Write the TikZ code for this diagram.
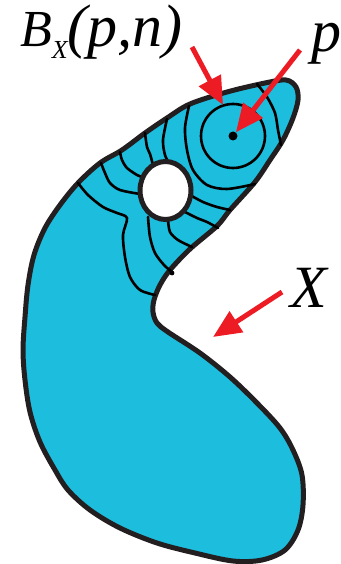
\documentclass[tikz,border=0pt]{standalone}
\usepackage{fontspec}
\setmainfont{Liberation Serif}
\usetikzlibrary{arrows.meta}
\definecolor{regionfill}{RGB}{29,189,221}
\definecolor{outline}{RGB}{35,31,32}
\definecolor{pointer}{RGB}{237,28,36}
\tikzset{
  region/.style={draw=outline,fill=regionfill,line width=5pt,line join=round},
  level/.style={draw=black,line width=2.6pt,line cap=round,line join=round},
  hole/.style={draw=outline,fill=white,line width=5pt},
  ptr/.style={-{Triangle[length=28pt,width=24pt]},draw=pointer,line width=5pt},
  lbl/.style={anchor=base west,inner sep=0pt,font=\rmfamily\itshape\fontsize{60}{64}\selectfont},
}
\begin{document}
\begin{tikzpicture}[x=1pt,y=-1pt]
  \useasboundingbox (0,0) rectangle (340,564);
  % the set X
  \path[region] plot[smooth cycle,tension=0.55] coordinates {
    (265,83) (286,80) (296,87) (298,100) (293,118) (283,140) (270,160)
    (255,182) (230,210) (217,226) (190,249) (170,270) (160,285) (154,300)
    (153,312) (157,323) (168,332) (200,353) (230,377) (257,403) (280,428)
    (293,450) (302,475) (303,505) (298,530) (285,550) (262,560) (233,561)
    (195,553) (157,543) (120,528) (90,510) (68,490) (55,470) (40,442)
    (30,412) (25,380) (23,350) (25,317) (28,285) (34,255) (45,228)
    (60,205) (78,183) (100,163) (122,150) (145,133) (167,118) (190,104)
    (227,92)};
  % level lines
  \draw[level] plot[smooth] coordinates {(189,106) (185,128) (187,150) (193,170) (207,185) (227,189) (255,184)};
  \draw[level] plot[smooth] coordinates {(257,84) (267,97) (275,113) (278,130) (281,145)};
  \draw[level] plot[smooth] coordinates {(167,119) (163,140) (165,155) (170,165)};
  \draw[level] plot[smooth] coordinates {(145,133) (147,147) (150,154) (153,165)};
  \draw[level] plot[smooth] coordinates {(120,152) (122,160) (127,168) (137,175) (142,177)};
  \draw[level] plot[smooth] coordinates {(101,163) (105,173) (110,183) (120,190) (140,194)};
  \draw[level] plot[smooth] coordinates {(78,183) (88,195) (103,207) (117,213) (127,218) (123,235) (125,257) (130,277) (140,290) (155,295)};
  \draw[level] plot[smooth] coordinates {(148,217) (150,237) (155,253) (164,265) (172,272)};
  \draw[level] plot[smooth] coordinates {(168,220) (170,232) (178,240) (192,247)};
  \draw[level] plot[smooth] coordinates {(185,212) (197,218) (207,222) (218,228)};
  \draw[level] plot[smooth] coordinates {(190,195) (203,202) (217,207) (230,210)};
  \fill (172,273) circle (2.4pt);
  \node[circle,draw,line width=2.6pt,minimum size=64pt,inner sep=0pt] (ball) at (233,136) {};
  \path[hole] (165.5,190.5) ellipse [x radius=25.5pt,y radius=29pt];
  \node[circle,fill,inner sep=0pt,minimum size=9pt] (pt) at (233,136) {};
  % labels
  \node[lbl,font=\rmfamily\itshape\fontsize{52}{64}\selectfont] (Blabel) at (20,47)
    {B\raisebox{-12pt}{\fontsize{26}{26}\selectfont X}\fontsize{60}{64}\selectfont(p,n)};
  \node[lbl] (plabel) at (311,52) {p};
  \node[lbl] (Xlabel) at (290,307) {X};
  % pointers
  \coordinate (Bstart) at (192,47);
  \coordinate (balltop) at (223,105);
  \coordinate (pstart) at (300,50);
  \coordinate (Xstart) at (282,292);
  \coordinate (neck) at (213,337);
  \draw[ptr] (Bstart) -- (balltop);
  \draw[ptr] (pstart) -- (pt);
  \draw[ptr] (Xstart) -- (neck);
\end{tikzpicture}
\end{document}
